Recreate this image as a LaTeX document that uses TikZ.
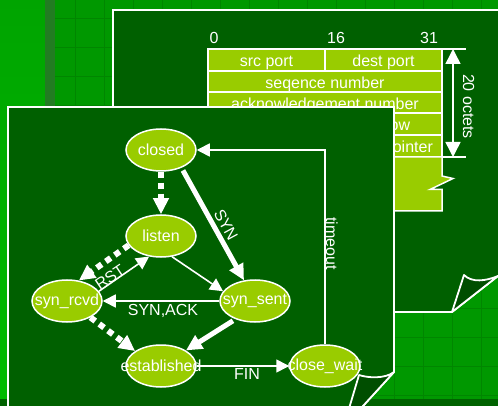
\documentclass[tikz,border=0pt]{standalone}
\usepackage{fontspec}
\setmainfont{Liberation Sans}
\usetikzlibrary{arrows.meta,shapes.geometric}
\definecolor{bggreen}{HTML}{009800}
\definecolor{lefttop}{HTML}{00A400}
\definecolor{leftbot}{HTML}{00BC00}
\definecolor{stripecol}{HTML}{227C22}
\definecolor{gridcol}{HTML}{008600}
\definecolor{pagecol}{HTML}{006000}
\definecolor{flapcol}{HTML}{004E00}
\definecolor{limecol}{HTML}{99CC00}
\definecolor{bottomcol}{HTML}{006200}
\begin{document}
\begin{tikzpicture}[x=1pt,y=-1pt,
  every node/.style={font=\fontsize{16}{19}\selectfont, text=white},
  state/.style={ellipse, draw=white, line width=1.5pt, fill=limecol,
    minimum width=70pt, minimum height=42pt, inner sep=0pt},
  thinarrow/.style={draw=white, line width=1.6pt, -{Triangle[length=13pt,width=13pt]}},
  thickarrow/.style={draw=white, line width=5pt, -{Triangle[length=16pt,width=15pt]}},
  dotarrow/.style={thickarrow, line width=6pt, dash pattern=on 6pt off 5pt},
  pageedge/.style={draw=white, line width=1.8pt},
  cell/.style={draw=white, line width=1.5pt, fill=limecol},
  txt/.style={anchor=base, inner sep=0pt},
]
\useasboundingbox (0,0) rectangle (498,406);
% background
\fill[bggreen] (0,0) rectangle (498,406);
\foreach \gx in {75,104,...,498} \draw[gridcol, line width=0.7pt] (\gx,0) -- (\gx,399);
\foreach \gy in {18,47,...,399} \draw[gridcol, line width=0.7pt] (55,\gy) -- (498,\gy);
\shade[top color=lefttop, bottom color=leftbot] (0,0) rectangle (45,406);
\fill[stripecol] (45,0) rectangle (55,406);
\fill[bottomcol] (0,399) rectangle (498,406);

% back page
\fill[pagecol] (113,10) -- (510,10) -- (510,266.6) -- (452,312) -- (113,312) -- cycle;
\draw[pageedge] (510,10) -- (113,10) -- (113,312) -- (452,312) -- (510,266.6);
\filldraw[pageedge, fill=flapcol, line join=round] (452,312) -- (464,275) .. controls (472,283) and (486,281) .. (498,276) -- cycle;

% header table
\draw[cell] (208,49) rectangle (325,71);
\draw[cell] (325,49) rectangle (442,71);
\draw[cell] (208,71) rectangle (442,92);
\draw[cell] (208,92) rectangle (442,113);
\draw[cell] (208,113) rectangle (325,135);
\draw[cell] (325,113) rectangle (442,135);
\draw[cell] (208,135) rectangle (325,157);
\draw[cell] (325,135) rectangle (442,157);
\draw[cell, line join=miter] (208,157) -- (442,157) -- (442,176) -- (453,178.5) -- (430,189.5) -- (442,189.5) -- (442,211) -- (208,211) -- cycle;
\node[txt] (b0) at (214,44) {0};
\node[txt] (b16) at (336,44) {16};
\node[txt] (b31) at (429,44) {31};
\node[txt] (srcport) at (266.5,67) {src port};
\node[txt] (destport) at (383.5,67) {dest port};
\node[txt] (seqnum) at (325,88.5) {seqence number};
\node[txt] (acknum) at (325,109.5) {acknowledgement number};
\node[txt] (window) at (383.5,130.5) {window};
\node[txt] (urgent) at (383.5,152.5) {urgent pointer};
\draw[white, line width=1.5pt] (442,49) -- (466,49) (442,157) -- (466,157);
\coordinate (dimtop) at (453,49);
\coordinate (dimbot) at (453,157);
\draw[white, line width=1.5pt, {Triangle[length=15pt,width=15pt]}-{Triangle[length=15pt,width=15pt]}] (dimtop) -- (dimbot);
\node[txt, rotate=-90] (octets) at (463,106.5) {20 octets};

% front page
\fill[pagecol] (8,107) -- (394,107) -- (394,372) -- (357.5,412) -- (8,412) -- cycle;
\draw[pageedge] (8,412) -- (8,107) -- (394,107) -- (394,372) -- (357.5,412);
\filldraw[pageedge, fill=flapcol, line join=round] (394,372) .. controls (385,379) and (368,378) .. (359,375) -- (348,412) -- (357.5,412) -- cycle;

% states
\node[state] (closed) at (161,150) {\makebox[0pt]{closed}};
\node[state] (listen) at (161,236) {\makebox[0pt]{listen}};
\node[state] (syn_rcvd) at (67,301) {\makebox[0pt]{syn\_rcvd}};
\node[state] (syn_sent) at (255,301) {\makebox[0pt]{syn\_sent}};
\node[state] (established) at (161,366) {\makebox[0pt]{established}};
\node[state] (close_wait) at (325,366) {\makebox[0pt]{close\_wait}};

% transitions
\draw[dotarrow] (closed.south) -- (listen.north);
\draw[thickarrow, shorten <=3pt] (closed.-41) -- (syn_sent.118);
\draw[thinarrow] (listen.-62) -- (syn_sent.163);
\draw[dotarrow] (listen.-164) -- (syn_rcvd.60);
\draw[thinarrow] (syn_rcvd.17) -- (listen.-120);
\draw[thinarrow] (syn_sent.west) -- (syn_rcvd.east);
\draw[thickarrow, shorten <=3pt] (syn_sent.-137) -- (established.32);
\draw[dotarrow] (syn_rcvd.-35) -- (established.150);
\draw[thinarrow] (established.east) -- (close_wait.west);
\draw[thinarrow] (close_wait.north) |- (closed.east);

% labels
\node[rotate=-61.5, inner sep=0pt] (synlbl) at (226,225) {SYN};
\node[rotate=34, inner sep=0pt] (rstlbl) at (110,277) {RST};
\node[txt] (synacklbl) at (163,315) {SYN,ACK};
\node[txt] (finlbl) at (247,379) {FIN};
\node[txt, rotate=-90] (timeoutlbl) at (326,243.5) {timeout};
\end{tikzpicture}
\end{document}
